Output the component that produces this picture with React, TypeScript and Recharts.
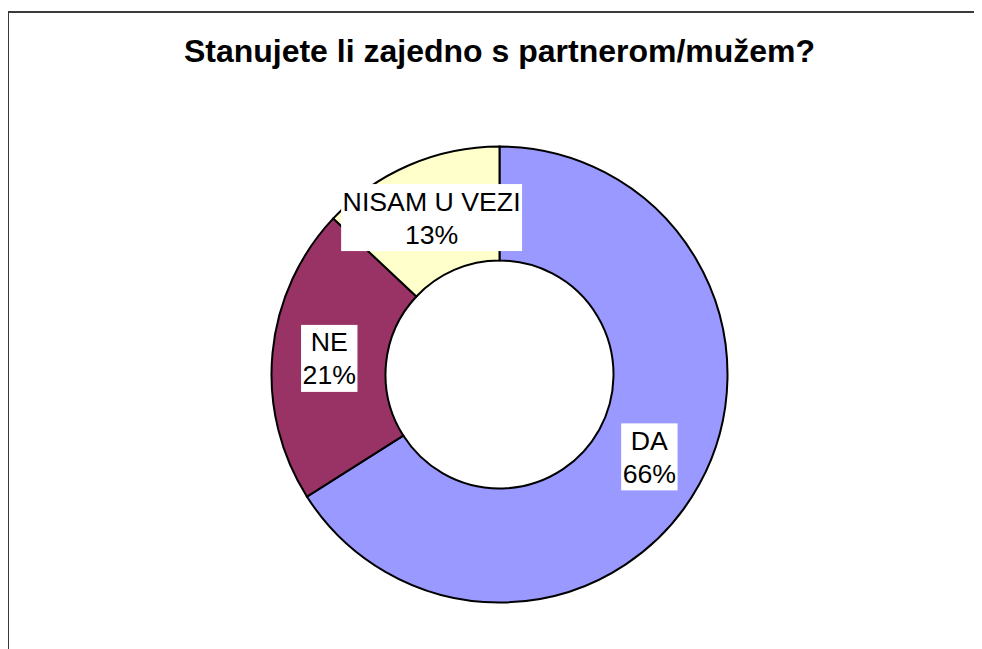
import React from "react";
import { Cell, Pie, PieChart } from "recharts";

const categories = ["DA", "NE", "NISAM U VEZI"];
const shares = [66, 21, 13];
const sliceColors = ["#9999FF", "#993366", "#FFFFCC"];

const chartTitle = "Stanujete li zajedno s partnerom/mužem?";

const data = categories.map((name, i) => ({ name, value: shares[i] }));

const RADIAN = Math.PI / 180;
const LABEL_FONT = '26.7px "Liberation Sans", Arial, sans-serif';

let measureCtx: CanvasRenderingContext2D | null = null;
function textWidth(s: string) {
  if (!measureCtx) {
    measureCtx = document.createElement("canvas").getContext("2d");
  }
  if (!measureCtx) return s.length * 15;
  measureCtx.font = LABEL_FONT;
  return measureCtx.measureText(s).width;
}

function SliceLabel(props: any) {
  const { cx, cy, midAngle, innerRadius, outerRadius, percent, name } = props;
  const r = (innerRadius + outerRadius) / 2;
  const x = cx + r * Math.cos(-midAngle * RADIAN);
  const y = cy + r * Math.sin(-midAngle * RADIAN);
  const pct = `${Math.round(percent * 100)}%`;
  const w = Math.max(textWidth(name), textWidth(pct)) + 3;
  const h = 67;
  return (
    <g>
      <rect x={x - w / 2} y={y - h / 2} width={w} height={h} fill="#ffffff" />
      <text x={x} textAnchor="middle" fill="#000" style={{ font: LABEL_FONT }}>
        <tspan x={x} y={y - 7}>
          {name}
        </tspan>
        <tspan x={x} y={y + 26}>
          {pct}
        </tspan>
      </text>
    </g>
  );
}

export default function App() {
  return (
    <div
      style={{
        position: "relative",
        marginTop: 3,
        width: 990,
        height: 660,
        borderTop: "2px solid #3a3a3a",
        borderLeft: "1.5px solid #3a3a3a",
        fontFamily: '"Liberation Sans", Arial, sans-serif',
      }}
    >
      <style>{"html, body { overflow: hidden; }"}</style>
      <div
        style={{
          position: "absolute",
          left: 9,
          top: 23,
          width: 963,
          textAlign: "center",
          fontWeight: "bold",
          fontSize: 32,
          lineHeight: "31px",
          color: "#000",
        }}
      >
        {chartTitle}
      </div>
      <PieChart width={972} height={636} margin={{ top: 0, right: 0, bottom: 0, left: 0 }}>
        <Pie
          data={data}
          dataKey="value"
          nameKey="name"
          cx={490.5}
          cy={361.5}
          innerRadius={114}
          outerRadius={228}
          startAngle={90}
          endAngle={-270}
          stroke="#000"
          strokeWidth={2}
          labelLine={false}
          label={SliceLabel}
          isAnimationActive={false}
        >
          {data.map((d, i) => (
            <Cell key={d.name} fill={sliceColors[i]} />
          ))}
        </Pie>
      </PieChart>
    </div>
  );
}
